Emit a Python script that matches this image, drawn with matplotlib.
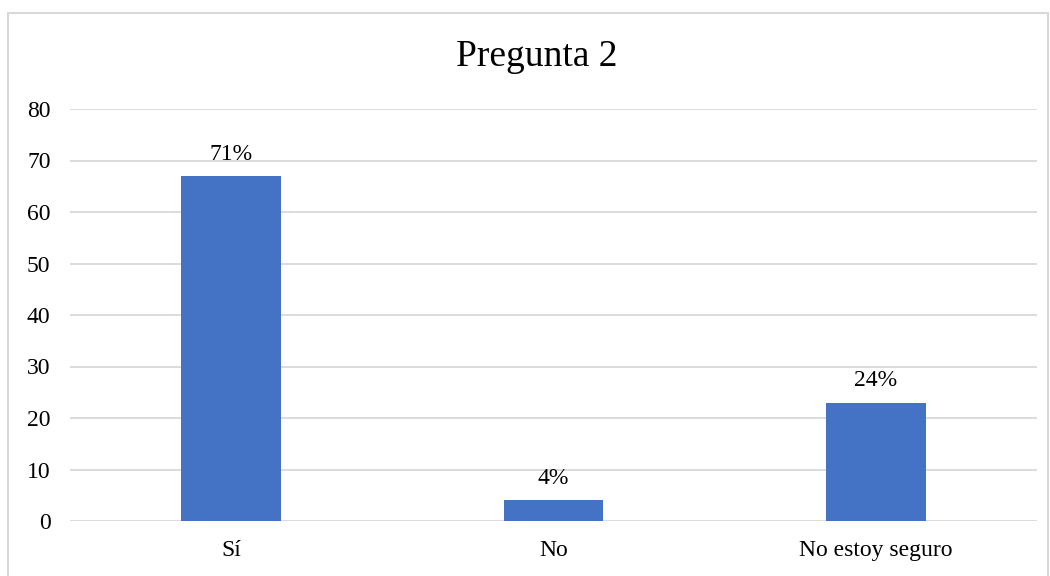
import matplotlib.pyplot as plt
from matplotlib.patches import Rectangle

categories = ["Sí", "No", "No estoy seguro"]
values = [67, 4, 23]
labels = ["71%", "4%", "24%"]

plt.rcParams['font.family'] = ['Liberation Serif', 'DejaVu Serif']

fig = plt.figure(figsize=(10.5, 5.76), dpi=100)
ax = fig.add_axes([70 / 1050, 1 - 521 / 576, (1037 - 70) / 1050, (521 - 109) / 576])

x = range(len(categories))
bars = ax.bar(x, values, width=0.31, color='#4472C4', zorder=3)

for b, lab in zip(bars, labels):
    ax.annotate(lab, (b.get_x() + b.get_width() / 2, b.get_height()),
                xytext=(0, 8), textcoords='offset points',
                ha='center', va='bottom', fontsize=17, color='#000000')

ax.set_ylim(0, 80)
ax.set_xlim(-0.5, 2.5)
ax.set_yticks(range(0, 81, 10))
ax.set_xticks(list(x))
ax.set_xticklabels(categories)
ax.tick_params(axis='both', length=0, labelsize=17, colors='#000000')
ax.tick_params(axis='y', pad=14)
ax.tick_params(axis='x', pad=14)
ax.grid(axis='y', color='#D9D9D9', linewidth=1.3, zorder=0)
for s in ax.spines.values():
    s.set_visible(False)

fig.text(537 / 1050, 1 - 57 / 576, "Pregunta 2", ha='center', va='center',
         fontsize=27, color='#000000')

fig.patches.append(Rectangle((8 / 1050, -0.05), 1040 / 1050, 1.05 - 13 / 576,
                             transform=fig.transFigure, fill=False,
                             edgecolor='#D9D9D9', linewidth=1.5))

fig.savefig('out.png', dpi=100)
